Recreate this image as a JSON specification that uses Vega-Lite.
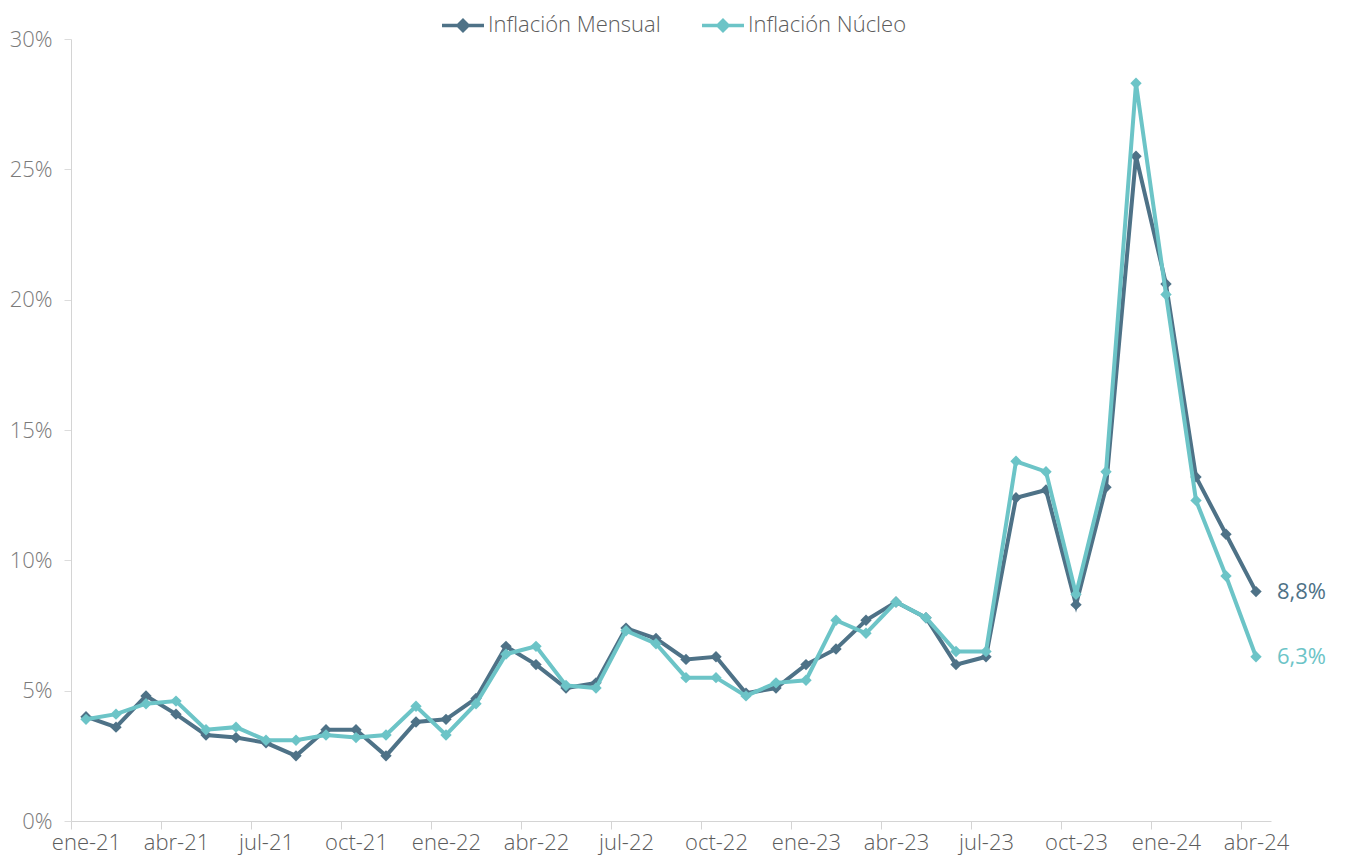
{
  "$schema": "https://vega.github.io/schema/vega-lite/v6.json",
  "width": 1200,
  "height": 782,
  "autosize": "none",
  "padding": {"left": 71, "top": 39, "right": 74, "bottom": 36},
  "background": "white",
  "config": {
    "view": {"stroke": null},
    "font": "Open Sans",
    "axis": {"labelFont": "Open Sans", "labelFontWeight": 300, "grid": false, "title": null}
  },
  "data": {
    "values": [
      {"mes": "ene-21", "serie": "Inflación Mensual", "v": 4.0},
      {"mes": "feb-21", "serie": "Inflación Mensual", "v": 3.6},
      {"mes": "mar-21", "serie": "Inflación Mensual", "v": 4.8},
      {"mes": "abr-21", "serie": "Inflación Mensual", "v": 4.1},
      {"mes": "may-21", "serie": "Inflación Mensual", "v": 3.3},
      {"mes": "jun-21", "serie": "Inflación Mensual", "v": 3.2},
      {"mes": "jul-21", "serie": "Inflación Mensual", "v": 3.0},
      {"mes": "ago-21", "serie": "Inflación Mensual", "v": 2.5},
      {"mes": "sep-21", "serie": "Inflación Mensual", "v": 3.5},
      {"mes": "oct-21", "serie": "Inflación Mensual", "v": 3.5},
      {"mes": "nov-21", "serie": "Inflación Mensual", "v": 2.5},
      {"mes": "dic-21", "serie": "Inflación Mensual", "v": 3.8},
      {"mes": "ene-22", "serie": "Inflación Mensual", "v": 3.9},
      {"mes": "feb-22", "serie": "Inflación Mensual", "v": 4.7},
      {"mes": "mar-22", "serie": "Inflación Mensual", "v": 6.7},
      {"mes": "abr-22", "serie": "Inflación Mensual", "v": 6.0},
      {"mes": "may-22", "serie": "Inflación Mensual", "v": 5.1},
      {"mes": "jun-22", "serie": "Inflación Mensual", "v": 5.3},
      {"mes": "jul-22", "serie": "Inflación Mensual", "v": 7.4},
      {"mes": "ago-22", "serie": "Inflación Mensual", "v": 7.0},
      {"mes": "sep-22", "serie": "Inflación Mensual", "v": 6.2},
      {"mes": "oct-22", "serie": "Inflación Mensual", "v": 6.3},
      {"mes": "nov-22", "serie": "Inflación Mensual", "v": 4.9},
      {"mes": "dic-22", "serie": "Inflación Mensual", "v": 5.1},
      {"mes": "ene-23", "serie": "Inflación Mensual", "v": 6.0},
      {"mes": "feb-23", "serie": "Inflación Mensual", "v": 6.6},
      {"mes": "mar-23", "serie": "Inflación Mensual", "v": 7.7},
      {"mes": "abr-23", "serie": "Inflación Mensual", "v": 8.4},
      {"mes": "may-23", "serie": "Inflación Mensual", "v": 7.8},
      {"mes": "jun-23", "serie": "Inflación Mensual", "v": 6.0},
      {"mes": "jul-23", "serie": "Inflación Mensual", "v": 6.3},
      {"mes": "ago-23", "serie": "Inflación Mensual", "v": 12.4},
      {"mes": "sep-23", "serie": "Inflación Mensual", "v": 12.7},
      {"mes": "oct-23", "serie": "Inflación Mensual", "v": 8.3},
      {"mes": "nov-23", "serie": "Inflación Mensual", "v": 12.8},
      {"mes": "dic-23", "serie": "Inflación Mensual", "v": 25.5},
      {"mes": "ene-24", "serie": "Inflación Mensual", "v": 20.6},
      {"mes": "feb-24", "serie": "Inflación Mensual", "v": 13.2},
      {"mes": "mar-24", "serie": "Inflación Mensual", "v": 11.0},
      {"mes": "abr-24", "serie": "Inflación Mensual", "v": 8.8},
      {"mes": "ene-21", "serie": "Inflación Núcleo", "v": 3.9},
      {"mes": "feb-21", "serie": "Inflación Núcleo", "v": 4.1},
      {"mes": "mar-21", "serie": "Inflación Núcleo", "v": 4.5},
      {"mes": "abr-21", "serie": "Inflación Núcleo", "v": 4.6},
      {"mes": "may-21", "serie": "Inflación Núcleo", "v": 3.5},
      {"mes": "jun-21", "serie": "Inflación Núcleo", "v": 3.6},
      {"mes": "jul-21", "serie": "Inflación Núcleo", "v": 3.1},
      {"mes": "ago-21", "serie": "Inflación Núcleo", "v": 3.1},
      {"mes": "sep-21", "serie": "Inflación Núcleo", "v": 3.3},
      {"mes": "oct-21", "serie": "Inflación Núcleo", "v": 3.2},
      {"mes": "nov-21", "serie": "Inflación Núcleo", "v": 3.3},
      {"mes": "dic-21", "serie": "Inflación Núcleo", "v": 4.4},
      {"mes": "ene-22", "serie": "Inflación Núcleo", "v": 3.3},
      {"mes": "feb-22", "serie": "Inflación Núcleo", "v": 4.5},
      {"mes": "mar-22", "serie": "Inflación Núcleo", "v": 6.4},
      {"mes": "abr-22", "serie": "Inflación Núcleo", "v": 6.7},
      {"mes": "may-22", "serie": "Inflación Núcleo", "v": 5.2},
      {"mes": "jun-22", "serie": "Inflación Núcleo", "v": 5.1},
      {"mes": "jul-22", "serie": "Inflación Núcleo", "v": 7.3},
      {"mes": "ago-22", "serie": "Inflación Núcleo", "v": 6.8},
      {"mes": "sep-22", "serie": "Inflación Núcleo", "v": 5.5},
      {"mes": "oct-22", "serie": "Inflación Núcleo", "v": 5.5},
      {"mes": "nov-22", "serie": "Inflación Núcleo", "v": 4.8},
      {"mes": "dic-22", "serie": "Inflación Núcleo", "v": 5.3},
      {"mes": "ene-23", "serie": "Inflación Núcleo", "v": 5.4},
      {"mes": "feb-23", "serie": "Inflación Núcleo", "v": 7.7},
      {"mes": "mar-23", "serie": "Inflación Núcleo", "v": 7.2},
      {"mes": "abr-23", "serie": "Inflación Núcleo", "v": 8.4},
      {"mes": "may-23", "serie": "Inflación Núcleo", "v": 7.8},
      {"mes": "jun-23", "serie": "Inflación Núcleo", "v": 6.5},
      {"mes": "jul-23", "serie": "Inflación Núcleo", "v": 6.5},
      {"mes": "ago-23", "serie": "Inflación Núcleo", "v": 13.8},
      {"mes": "sep-23", "serie": "Inflación Núcleo", "v": 13.4},
      {"mes": "oct-23", "serie": "Inflación Núcleo", "v": 8.7},
      {"mes": "nov-23", "serie": "Inflación Núcleo", "v": 13.4},
      {"mes": "dic-23", "serie": "Inflación Núcleo", "v": 28.3},
      {"mes": "ene-24", "serie": "Inflación Núcleo", "v": 20.2},
      {"mes": "feb-24", "serie": "Inflación Núcleo", "v": 12.3},
      {"mes": "mar-24", "serie": "Inflación Núcleo", "v": 9.4},
      {"mes": "abr-24", "serie": "Inflación Núcleo", "v": 6.3}
    ]
  },
  "encoding": {
    "x": {
      "field": "mes",
      "type": "ordinal",
      "sort": null,
      "scale": {"type": "point", "padding": 0.5},
      "axis": {
        "values": ["ene-21", "abr-21", "jul-21", "oct-21", "ene-22", "abr-22", "jul-22", "oct-22", "ene-23", "abr-23", "jul-23", "oct-23", "ene-24", "abr-24"],
        "tickOffset": -15,
        "labelOffset": 15,
        "labelAngle": 0,
        "tickSize": 8,
        "tickColor": "#d4d4d4",
        "domainColor": "#d4d4d4",
        "labelFontSize": 22,
        "labelColor": "#5c5c5c",
        "labelPadding": 3
      }
    },
    "y": {
      "field": "v",
      "type": "quantitative",
      "scale": {"domain": [0, 30], "nice": false},
      "axis": {
        "values": [0, 5, 10, 15, 20, 25, 30],
        "labelExpr": "datum.value + '%'",
        "tickSize": 7,
        "tickColor": "#dcdcdc",
        "domainColor": "#d4d4d4",
        "labelFontSize": 22,
        "labelColor": "#7a7a7a",
        "labelPadding": 12
      }
    },
    "color": {
      "field": "serie",
      "type": "nominal",
      "scale": {"domain": ["Inflación Mensual", "Inflación Núcleo"], "range": ["#4e7287", "#6cc4c7"]},
      "legend": {
        "title": null,
        "orient": "none",
        "direction": "horizontal",
        "legendX": 369,
        "legendY": -37,
        "padding": 0,
        "offset": 0,
        "symbolType": "M-1,0H1M0,-0.24L0.24,0L0,0.24L-0.24,0Z",
        "symbolSize": 1764,
        "symbolStrokeWidth": 3.5,
        "labelFont": "Open Sans",
        "labelFontWeight": 300,
        "labelFontSize": 22,
        "labelLimit": 400,
        "labelColor": "#5c5c5c",
        "labelOffset": 2,
        "columnPadding": 34,
        "encode": {
          "symbols": {"update": {"fill": {"scale": "color", "field": "value"}, "stroke": {"scale": "color", "field": "value"}}}
        }
      }
    }
  },
  "layer": [
    {
      "transform": [{"filter": "datum.serie == 'Inflación Mensual'"}],
      "mark": {"type": "line", "strokeWidth": 4, "point": {"shape": "diamond", "size": 130, "filled": true, "opacity": 1}}
    },
    {
      "transform": [{"filter": "datum.serie == 'Inflación Núcleo'"}],
      "mark": {"type": "line", "strokeWidth": 4, "point": {"shape": "diamond", "size": 130, "filled": true, "opacity": 1}}
    },
    {
      "transform": [
        {"filter": "datum.mes == 'abr-24'"},
        {"calculate": "replace(format(datum.v, '.1f'), '.', ',') + '%'", "as": "etiqueta"}
      ],
      "mark": {"type": "text", "align": "left", "baseline": "middle", "dx": 21, "fontSize": 22, "font": "Open Sans"},
      "encoding": {"text": {"field": "etiqueta"}}
    }
  ]
}
